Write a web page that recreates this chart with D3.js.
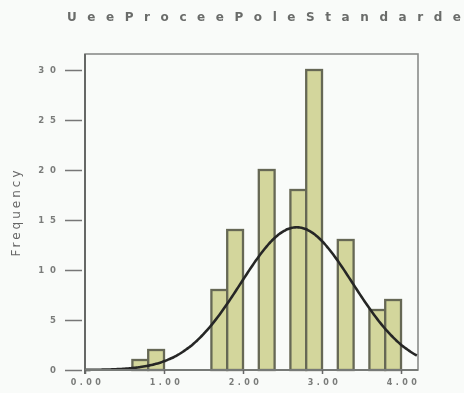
<!DOCTYPE html>
<html>
<head>
<meta charset="utf-8">
<script src="https://cdn.jsdelivr.net/npm/d3@7/dist/d3.min.js"></script>
<style>
  html, body { margin: 0; padding: 0; background: #f9fbf9; }
  svg { display: block; }
</style>
</head>
<body>
<div id="chart"></div>
<script>
// Histogram bins (lower edge, upper edge) and frequencies
const binStart = [0.6, 0.8, 1.6, 1.8, 2.2, 2.6, 2.8, 3.2, 3.6, 3.8];
const binEnd   = [0.8, 1.0, 1.8, 2.0, 2.4, 2.8, 3.0, 3.4, 3.8, 4.0];
const counts   = [1, 2, 8, 14, 20, 18, 30, 13, 6, 7];

// Fitted normal curve: mean, standard deviation, and N × bin width
const normalMean = 2.68;
const normalSd = 0.71;
const normalScale = 25.4;

const xTicks = [0, 1, 2, 3, 4];
const xTickLabels = ["0.00", "1.00", "2.00", "3.00", "4.00"];
const yTicks = [0, 5, 10, 15, 20, 25, 30];
const yTickLabels = ["0", "5", "10", "15", "20", "25", "30"];

const title = "UeeProceePoleStandarde";
const yTitle = "Frequency";

const W = 464, H = 393;
const margin = { left: 85, right: 46, top: 54, bottom: 23 };

const svg = d3.select("#chart").append("svg")
  .attr("width", W).attr("height", H);

const defs = svg.append("defs");
defs.append("filter").attr("id", "soft")
  .append("feGaussianBlur").attr("stdDeviation", 0.45);

const g = svg.append("g").attr("filter", "url(#soft)");

g.append("rect").attr("width", W).attr("height", H).attr("fill", "#f9fbf9");

const x = d3.scaleLinear().domain([0, 4.215]).range([margin.left, W - margin.right]);
const y = d3.scaleLinear().domain([0, 31.6]).range([H - margin.bottom, margin.top]);

// Frame
g.append("rect")
  .attr("x", x(0)).attr("y", y(31.6))
  .attr("width", x(4.215) - x(0)).attr("height", y(0) - y(31.6))
  .attr("fill", "none").attr("stroke", "#8a8c8a").attr("stroke-width", 1.6);

// Bars
const bins = counts.map((c, i) => ({ x0: binStart[i], x1: binEnd[i], n: c }));
g.append("g").selectAll("rect").data(bins).join("rect")
  .attr("x", d => x(d.x0))
  .attr("y", d => y(d.n))
  .attr("width", d => x(d.x1) - x(d.x0))
  .attr("height", d => y(0) - y(d.n))
  .attr("fill", "#d3d69c")
  .attr("stroke", "#666854")
  .attr("stroke-width", 2.3);

// Normal curve
const curvePts = d3.range(0, 4.2001, 0.02).map(v => [v,
  normalScale / (normalSd * Math.sqrt(2 * Math.PI)) *
  Math.exp(-0.5 * ((v - normalMean) / normalSd) ** 2)]);
g.append("path")
  .datum(curvePts)
  .attr("fill", "none")
  .attr("stroke", "#262826")
  .attr("stroke-width", 2.6)
  .attr("d", d3.line().x(d => x(d[0])).y(d => y(d[1])).curve(d3.curveBasis));

// Axes lines
g.append("line").attr("x1", x(0)).attr("x2", x(0))
  .attr("y1", y(31.6)).attr("y2", y(0) + 4)
  .attr("stroke", "#666866").attr("stroke-width", 2);
g.append("line").attr("x1", x(0)).attr("x2", x(4.215))
  .attr("y1", y(0)).attr("y2", y(0))
  .attr("stroke", "#777a77").attr("stroke-width", 2);

// Y axis ticks and labels
const yAxis = d3.axisLeft(y).tickValues(yTicks)
  .tickFormat((d, i) => yTickLabels[i]).tickSize(17).tickPadding(3);
const ya = g.append("g").attr("transform", `translate(${x(0) - 3},0)`).call(yAxis);
ya.select(".domain").remove();
ya.selectAll(".tick line").attr("stroke", "#777").attr("stroke-width", 1.5);
ya.selectAll(".tick text")
  .attr("font-family", "DejaVu Sans, sans-serif")
  .attr("font-size", 8.5).attr("font-weight", "bold")
  .attr("letter-spacing", 6)
  .attr("fill", "#7a7c7a");

// X axis ticks and labels
const xAxis = d3.axisBottom(x).tickValues(xTicks)
  .tickFormat((d, i) => xTickLabels[i]).tickSize(4).tickPadding(5);
const xa = g.append("g").attr("transform", `translate(0,${y(0)})`).call(xAxis);
xa.select(".domain").remove();
xa.selectAll(".tick line").attr("stroke", "#666").attr("stroke-width", 1.5);
xa.selectAll(".tick text")
  .attr("font-family", "DejaVu Sans, sans-serif")
  .attr("font-size", 8).attr("font-weight", "bold")
  .attr("letter-spacing", 3.5)
  .attr("dx", 2)
  .attr("fill", "#7a7c7a");

// Y axis title
g.append("text")
  .attr("transform", `translate(20,${(y(0) + y(31.6)) / 2}) rotate(-90)`)
  .attr("text-anchor", "middle")
  .attr("font-family", "DejaVu Sans, sans-serif")
  .attr("font-size", 12)
  .attr("letter-spacing", 3)
  .attr("fill", "#666")
  .text(yTitle);

// Chart title
g.append("text")
  .attr("x", 67).attr("y", 21)
  .attr("textLength", 394).attr("lengthAdjust", "spacing")
  .attr("font-family", "DejaVu Sans, sans-serif")
  .attr("font-size", 12).attr("font-weight", "bold")
  .attr("fill", "#6a6c6a")
  .text(title);
</script>
</body>
</html>
